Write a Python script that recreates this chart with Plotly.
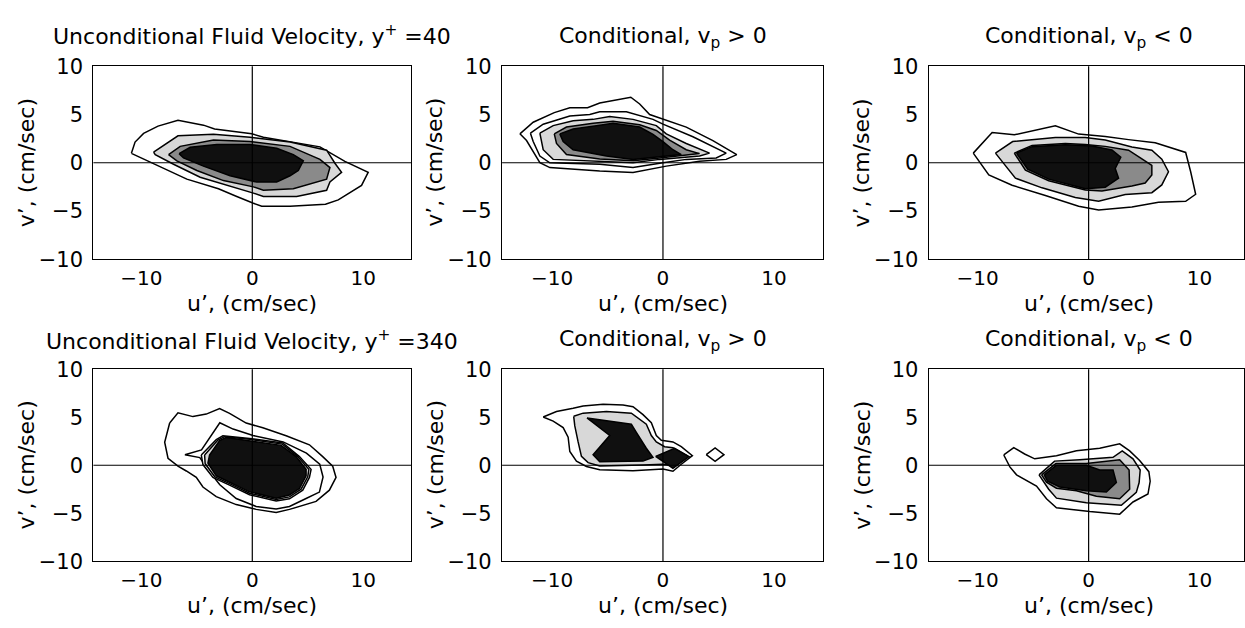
import plotly.graph_objects as go

# ---------------- data ----------------
x_ticks = [-10, 0, 10]
y_ticks = [-10, -5, 0, 5, 10]

# y+ = 40, unconditional
tl_c1_u = [-10.9, -10.57, -9.8, -8.5, -6.7, -4.4, -3.4, -0.05, 1.0, 3.4, 6.1, 8.35, 10.45, 9.85, 7.75, 6.6, 3.4, 0.85, 0.1, -1.4, -3.05, -5.9, -8.2, -10.6]
tl_c1_v = [0.98, 2.15, 3.05, 3.8, 4.4, 3.9, 3.5, 3.0, 2.65, 2.15, 1.65, 0.15, -1.0, -2.35, -3.85, -4.3, -4.5, -4.5, -4.2, -3.5, -2.7, -1.7, -0.5, 0.8]
tl_c2_u = [-8.9, -6.7, -3.5, -0.2, 3.4, 6.7, 7.45, 8.05, 7.0, 6.7, 4.0, 1.0, 0.1, -1.4, -4.7, -7.1, -8.75]
tl_c2_v = [1.1, 2.8, 2.95, 2.65, 2.15, 1.3, -0.05, -1.0, -2.0, -2.85, -3.5, -3.5, -3.15, -2.65, -1.5, -0.15, 0.85]
tl_c3_u = [-7.55, -6.5, -3.5, -0.2, 3.4, 6.1, 7.0, 6.7, 3.7, 1.0, 0.1, -2.6, -5.0, -6.8]
tl_c3_v = [0.85, 1.7, 2.35, 2.2, 1.7, 0.35, -0.5, -1.7, -2.7, -2.85, -2.5, -1.85, -0.8, 0.2]
tl_c4_u = [-6.6, -5.6, -3.2, -0.2, 2.2, 3.7, 4.6, 4.15, 3.4, 2.2, 0.4, -2.0, -4.4, -6.2]
tl_c4_v = [0.95, 1.6, 1.9, 1.9, 1.5, 0.85, 0.2, -0.8, -1.35, -2.0, -2.0, -1.35, -0.35, 0.5]

# y+ = 40, conditional v_p > 0
tm_c1_u = [-12.9, -11.7, -9.8, -8.4, -6.8, -5.7, -2.9, -2.1, -1.2, 0.0, 2.1, 4.5, 6.65, 5.7, 3.3, 0.3, -2.7, -5.7, -10.2, -11.1, -11.7, -12.3]
tm_c1_v = [3.0, 4.2, 5.2, 5.7, 5.7, 6.2, 6.8, 6.1, 5.0, 4.5, 3.7, 2.3, 0.85, 0.35, 0.15, -0.35, -1.0, -0.85, -0.5, 0.0, 1.2, 2.3]
tm_c2_u = [-11.95, -10.8, -8.4, -6.6, -5.7, -3.3, -0.9, 0.0, 2.7, 4.5, 5.7, 4.8, 2.1, 0.0, -2.7, -5.7, -10.2, -11.1, -11.7]
tm_c2_v = [3.07, 4.0, 4.85, 5.0, 5.3, 5.3, 4.5, 4.0, 2.7, 1.7, 1.0, 0.5, 0.35, 0.0, -0.5, -0.15, 0.0, 0.7, 2.2]
tm_c3_u = [-11.1, -9.9, -8.1, -6.3, -4.8, -2.7, -0.6, 0.3, 2.1, 4.2, 3.3, 0.9, -0.3, -2.7, -5.7, -9.9, -10.8]
tm_c3_v = [3.07, 3.85, 4.35, 4.5, 4.8, 4.5, 3.85, 3.0, 2.0, 1.0, 0.7, 0.5, 0.35, 0.0, 0.15, 0.35, 1.35]
tm_c4_u = [-9.8, -8.7, -6.3, -4.5, -2.1, -0.6, 0.6, 2.1, 3.3, 0.9, -0.3, -2.7, -5.7, -8.7, -9.6]
tm_c4_v = [3.0, 3.7, 4.1, 4.3, 3.95, 3.35, 2.35, 1.35, 0.95, 0.7, 0.5, 0.2, 0.4, 0.85, 2.0]
tm_c5_u = [-9.3, -8.1, -6.0, -4.5, -2.1, -0.9, 0.0, 0.9, 1.65, 0.3, -0.9, -2.7, -5.1, -8.1, -9.0]
tm_c5_v = [3.0, 3.5, 3.85, 4.1, 3.7, 2.95, 2.2, 1.35, 0.85, 0.7, 0.6, 0.35, 0.7, 1.35, 2.2]

# y+ = 40, conditional v_p < 0
tr_c1_u = [-10.4, -8.7, -6.7, -3.0, -0.9, 1.5, 3.6, 6.0, 8.75, 9.2, 9.65, 8.75, 6.3, 3.9, 0.9, -0.9, -3.9, -6.9, -9.0]
tr_c1_v = [1.0, 3.13, 2.9, 3.83, 2.97, 2.73, 2.4, 2.07, 1.07, -0.93, -3.27, -4.0, -4.1, -4.6, -4.9, -4.5, -3.4, -2.33, -1.27]
tr_c2_u = [-8.4, -6.85, -3.0, -0.3, 1.5, 3.9, 5.7, 6.6, 7.2, 6.6, 5.7, 3.3, 0.9, -1.2, -4.2, -6.6]
tr_c2_v = [1.0, 2.2, 2.63, 2.63, 2.37, 1.63, 1.3, 0.37, -0.93, -2.3, -3.1, -3.3, -4.0, -3.6, -2.6, -1.6]
tr_c3_u = [-6.7, -5.1, -2.1, -0.3, 1.5, 3.6, 4.7, 5.7, 5.7, 5.1, 3.9, 1.2, -0.3, -3.6, -5.7]
tr_c3_v = [1.0, 1.8, 2.0, 1.9, 1.7, 1.3, 0.47, -0.27, -1.27, -2.1, -2.4, -2.93, -2.83, -1.87, -0.77]
tr_c4_u = [-6.5, -5.1, -2.1, 0.3, 2.1, 2.9, 2.4, 2.7, 1.5, -0.3, -3.6, -5.5]
tr_c4_v = [1.0, 1.67, 1.87, 1.73, 1.33, 0.57, -0.6, -1.6, -2.53, -2.7, -1.7, -0.67]

# y+ = 340, unconditional
bl_c1_u = [-7.45, -6.7, -5.35, -4.15, -2.95, -2.05, -0.55, 0.95, 3.05, 5.15, 6.35, 7.25, 7.55, 6.95, 5.75, 3.35, 2.15, 0.35, -1.45, -3.25, -4.45, -5.05, -5.95, -6.7, -7.6, -7.9]
bl_c1_v = [4.4, 5.47, 5.07, 5.33, 5.9, 5.4, 4.4, 3.9, 3.07, 2.13, 0.9, -0.1, -1.27, -2.6, -3.77, -4.6, -4.93, -4.6, -4.1, -3.27, -2.27, -1.27, -0.6, -0.1, 0.73, 2.4]
bl_c2_u = [-6.08, -4.58, -2.93, -1.73, 0.07, 2.78, 4.88, 6.08, 6.38, 6.05, 4.85, 3.35, 2.15, 0.35, -1.45, -2.93, -3.83, -4.73]
bl_c2_v = [1.1, 1.6, 4.43, 3.77, 3.1, 2.43, 1.27, 0.1, -1.23, -2.8, -3.47, -4.3, -4.57, -4.3, -3.47, -2.03, -0.7, 0.8]
bl_c3_u = [-4.6, -3.25, -2.65, -0.25, 2.75, 4.25, 5.3, 5.15, 4.55, 3.35, 2.15, -0.25, -2.05, -3.55, -4.45]
bl_c3_v = [1.07, 2.67, 3.07, 2.8, 2.33, 0.9, -0.43, -1.27, -2.6, -3.5, -3.73, -3.07, -2.07, -1.27, 0.07]
bl_c4_u = [-4.3, -3.1, -2.5, -0.25, 2.7, 4.1, 5.1, 5.0, 4.4, 3.35, 2.15, -0.25, -2.05, -3.4, -4.25]
bl_c4_v = [1.07, 2.62, 2.98, 2.7, 2.2, 0.9, -0.43, -1.2, -2.5, -3.3, -3.58, -2.92, -1.92, -1.18, 0.15]
bl_c5_u = [-3.85, -2.95, -2.35, -0.25, 2.6, 3.95, 4.85, 4.85, 4.25, 3.35, 2.15, -0.25, -2.05, -3.25, -4.0]
bl_c5_v = [1.07, 2.57, 2.9, 2.57, 2.07, 0.9, -0.43, -1.1, -2.43, -3.1, -3.43, -2.77, -1.77, -1.1, 0.23]

# y+ = 340, conditional v_p > 0
bm_c1_u = [-10.8, -9.6, -8.1, -7.2, -5.4, -3.6, -2.7, -1.8, -1.05, -0.6, -0.15, 0.9, 1.65, 2.65, 1.65, 0.9, 0.0, -2.7, -5.7, -6.9, -7.8, -8.4, -8.55, -9.0, -9.9]
bm_c1_v = [5.03, 5.6, 5.93, 6.17, 6.37, 6.27, 6.1, 5.27, 4.43, 3.1, 2.6, 2.43, 1.93, 1.0, 0.1, -0.63, -0.4, -0.57, -0.47, -0.13, 0.43, 1.43, 2.93, 3.93, 4.6]
bm_c2_u = [-8.05, -7.2, -5.1, -2.85, -1.5, -1.05, -0.6, 0.15, 0.9, 2.1, 1.05, 0.0, -1.8, -5.7, -6.75, -7.35, -7.65, -7.95]
bm_c2_v = [5.1, 5.43, 5.6, 5.43, 4.27, 3.1, 2.43, 1.93, 1.83, 1.03, -0.07, 0.1, 0.03, -0.07, 0.27, 0.93, 2.43, 4.1]
bm_c3_u = [-6.85, -4.6, -2.85, -2.4, -1.5, -0.9, -1.8, -5.7, -6.3, -4.8]
bm_c3_v = [4.93, 4.6, 4.27, 3.43, 1.77, 0.83, 0.43, 0.37, 1.1, 3.1]
bm_c4_u = [-0.66, 1.05, 2.35, 0.9]
bm_c4_v = [0.93, 1.77, 0.9, -0.33]
bm_c5_u = [3.9, 4.7, 5.5, 4.7]
bm_c5_v = [1.1, 1.8, 1.1, 0.4]

# y+ = 340, conditional v_p < 0
br_c1_u = [-7.65, -6.75, -5.77, -4.86, -2.9, -1.1, 1.0, 2.8, 3.7, 4.6, 5.43, 5.55, 5.35, 4.0, 2.8, 0.1, -2.9, -3.8, -4.7, -6.5, -7.1]
br_c1_v = [1.07, 1.83, 1.17, 0.67, 1.0, 1.5, 1.77, 2.23, 1.5, 0.5, -0.67, -1.67, -3.0, -3.83, -5.1, -4.83, -4.43, -3.5, -2.17, -1.0, -0.17]
br_c2_u = [-4.47, -3.07, -0.8, 2.2, 3.03, 4.0, 4.65, 4.55, 4.3, 2.95, -0.2, -2.9, -3.6]
br_c2_v = [-1.0, 0.43, 0.57, 0.83, 1.5, 0.67, -0.5, -1.83, -2.83, -4.17, -3.9, -3.43, -2.5]
br_c3_u = [-4.24, -2.95, -0.2, 2.8, 3.65, 3.7, 2.8, 0.7, -1.1, -2.9, -3.8]
br_c3_v = [-1.0, 0.17, 0.17, 0.57, -0.5, -2.5, -3.5, -3.23, -2.67, -2.4, -1.77]
br_c4_u = [-4.0, -2.9, -0.2, 1.0, 2.2, 2.5, 1.6, -0.2, -2.6, -3.7]
br_c4_v = [-1.0, 0.0, 0.0, -0.5, -0.5, -1.8, -2.8, -2.67, -2.27, -1.67]

titles = [
    "Unconditional Fluid Velocity, y<sup>+</sup> =40",
    "Conditional, v<sub>p</sub> &gt; 0",
    "Conditional, v<sub>p</sub> &lt; 0",
    "Unconditional Fluid Velocity, y<sup>+</sup> =340",
    "Conditional, v<sub>p</sub> &gt; 0",
    "Conditional, v<sub>p</sub> &lt; 0",
]
x_title = "u’, (cm/sec)"
y_title = "v’, (cm/sec)"

# ---------------- styling / layout ----------------
W, H = 1245, 628
FONT = "DejaVu Sans"
FILL = ["#ffffff", "#d8d8d8", "#8a8a8a", "#101010"]

panels = [
    [(tl_c1_u, tl_c1_v, 0), (tl_c2_u, tl_c2_v, 1), (tl_c3_u, tl_c3_v, 2), (tl_c4_u, tl_c4_v, 3)],
    [(tm_c1_u, tm_c1_v, 0), (tm_c2_u, tm_c2_v, 0), (tm_c3_u, tm_c3_v, 1), (tm_c4_u, tm_c4_v, 2), (tm_c5_u, tm_c5_v, 3)],
    [(tr_c1_u, tr_c1_v, 0), (tr_c2_u, tr_c2_v, 1), (tr_c3_u, tr_c3_v, 2), (tr_c4_u, tr_c4_v, 3)],
    [(bl_c1_u, bl_c1_v, 0), (bl_c2_u, bl_c2_v, 0), (bl_c3_u, bl_c3_v, 0), (bl_c4_u, bl_c4_v, 1), (bl_c5_u, bl_c5_v, 3)],
    [(bm_c1_u, bm_c1_v, 0), (bm_c2_u, bm_c2_v, 1), (bm_c3_u, bm_c3_v, 3), (bm_c4_u, bm_c4_v, 3), (bm_c5_u, bm_c5_v, 0)],
    [(br_c1_u, br_c1_v, 0), (br_c2_u, br_c2_v, 1), (br_c3_u, br_c3_v, 2), (br_c4_u, br_c4_v, 3)],
]

# pixel geometry: (left, zero, right) for columns, (top, zero, bottom) for rows
col_px = [(93.5, 252.5, 411.5), (502.5, 663.5, 824.0), (929.5, 1089.5, 1245.0)]
row_px = [(56.5, 156.7, 257.0), (371.5, 471.0, 571.0)]
title_gap = [33, 30, 30, 30, 30, 30]
PXU = 11.1

fig = go.Figure()
layout = dict(width=W, height=H, margin=dict(l=0, r=0, t=0, b=0),
              paper_bgcolor="white", plot_bgcolor="white", showlegend=False,
              font=dict(family=FONT, color="black"))
shapes, annotations = [], []

for i, contours in enumerate(panels):
    r, c = divmod(i, 3)
    n = i + 1
    xs = "" if n == 1 else str(n)
    left, x0, right = col_px[c]
    top, y0, bottom = row_px[r]
    for u, v, lev in contours:
        fig.add_trace(go.Scatter(
            x=u + [u[0]], y=v + [v[0]], mode="lines", fill="toself",
            fillcolor=FILL[lev], line=dict(color="black", width=1.5),
            xaxis="x" + xs, yaxis="y" + xs, hoverinfo="skip"))
    layout["xaxis" + xs] = dict(
        domain=[left / W, right / W], anchor="y" + xs,
        range=[(left - x0) / PXU, (right - x0) / PXU],
        tickvals=x_ticks, ticks="", showgrid=False, zeroline=False,
        showline=True, mirror=True, linecolor="black", linewidth=1.3,
        tickfont=dict(family=FONT, size=20, color="black"), ticklabelstandoff=1)
    layout["yaxis" + xs] = dict(
        domain=[1 - bottom / H, 1 - top / H], anchor="x" + xs,
        range=[-10, 10], tickvals=y_ticks, ticks="", showgrid=False, zeroline=False,
        showline=True, mirror=True, linecolor="black", linewidth=1.3,
        tickfont=dict(family=FONT, size=21, color="black"), ticklabelstandoff=5)
    shapes.append(dict(type="line", xref="x" + xs + " domain", yref="y" + xs,
                       x0=0, x1=1, y0=0, y1=0, line=dict(color="black", width=1.2), layer="above"))
    shapes.append(dict(type="line", xref="x" + xs, yref="y" + xs + " domain",
                       x0=0, x1=0, y0=0, y1=1, line=dict(color="black", width=1.2), layer="above"))
    # panel title
    annotations.append(dict(text=titles[i], x=x0 / W, y=1 - (top - title_gap[i]) / H,
                            xref="paper", yref="paper", xanchor="center", yanchor="middle",
                            showarrow=False, font=dict(family=FONT, size=22, color="black")))
    # axis titles
    annotations.append(dict(text=x_title, x=x0 / W, y=1 - (bottom + 46) / H,
                            xref="paper", yref="paper", xanchor="center", yanchor="middle",
                            showarrow=False, font=dict(family=FONT, size=22, color="black")))
    annotations.append(dict(text=y_title, x=(left - 67) / W, y=1 - y0 / H, textangle=-90,
                            xref="paper", yref="paper", xanchor="center", yanchor="middle",
                            showarrow=False, font=dict(family=FONT, size=22, color="black")))

layout["shapes"] = shapes
layout["annotations"] = annotations
fig.update_layout(**layout)
fig.write_html("out.html", config={"displayModeBar": False},
               post_script="document.body.style.margin='0';document.body.style.overflow='hidden';")
